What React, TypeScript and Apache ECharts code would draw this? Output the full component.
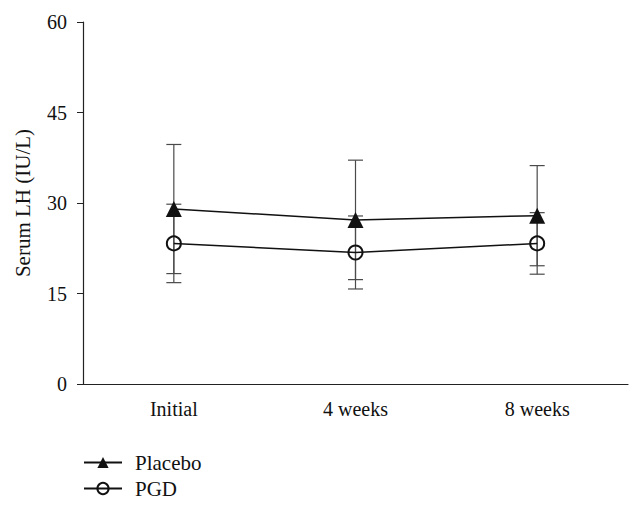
import React, { useEffect, useRef } from "react";
import * as echarts from "echarts";

const categories = ["Initial", "4 weeks", "8 weeks"];
const placeboMean = [29.0, 27.2, 27.9];
const placeboSD = [10.7, 9.9, 8.3];
const pgdMean = [23.3, 21.8, 23.3];
const pgdSD = [6.5, 6.05, 5.1];
const yTicks = [0, 15, 30, 45, 60];

const FONT = "Liberation Serif";

export default function App() {
  const ref = useRef<HTMLDivElement>(null);
  useEffect(() => {
    if (!ref.current) return;
    const chart = echarts.init(ref.current, null, { renderer: "svg" });
    const errData = (mean: number[], sd: number[]) =>
      mean.map((m, i) => [i, m - sd[i], m + sd[i]]);
    const renderErr = (params: any, api: any) => {
      const x = api.value(0);
      const lo = api.coord([x, api.value(1)]);
      const hi = api.coord([x, api.value(2)]);
      const hw = 7.5;
      const style = { stroke: "#4a4a4a", lineWidth: 1.2 };
      return {
        type: "group",
        children: [
          { type: "line", shape: { x1: lo[0], y1: lo[1], x2: hi[0], y2: hi[1] }, style },
          { type: "line", shape: { x1: lo[0] - hw, y1: lo[1], x2: lo[0] + hw, y2: lo[1] }, style },
          { type: "line", shape: { x1: hi[0] - hw, y1: hi[1], x2: hi[0] + hw, y2: hi[1] }, style },
        ],
      };
    };
    chart.setOption({
      animation: false,
      backgroundColor: "#ffffff",
      textStyle: { fontFamily: FONT },
      grid: { left: 83, right: 15, top: 22, bottom: 127, containLabel: false },
      legend: {
        orient: "vertical",
        left: 83,
        top: 452,
        padding: 0,
        itemWidth: 38,
        itemHeight: 14,
        itemGap: 5,
        data: ["Placebo", "PGD"],
        textStyle: { fontFamily: FONT, fontSize: 21, color: "#111", padding: [0, 0, 0, 8] },
      },
      xAxis: {
        type: "category",
        data: categories,
        boundaryGap: true,
        axisLine: { lineStyle: { color: "#222", width: 1.2 } },
        axisTick: { alignWithLabel: true, length: 5, lineStyle: { color: "#222" } },
        axisLabel: { fontFamily: FONT, fontSize: 20, color: "#111", margin: 15 },
      },
      yAxis: {
        type: "value",
        min: yTicks[0],
        max: yTicks[yTicks.length - 1],
        interval: 15,
        name: "Serum LH (IU/L)",
        nameLocation: "middle",
        nameGap: 50,
        nameTextStyle: { fontFamily: FONT, fontSize: 21, color: "#111" },
        splitLine: { show: false },
        axisLine: { show: true, lineStyle: { color: "#222", width: 1.2 } },
        axisTick: { show: true, length: 6, lineStyle: { color: "#222" } },
        axisLabel: { fontFamily: FONT, fontSize: 20, color: "#111", margin: 16 },
      },
      series: [
        {
          name: "Placebo",
          type: "line",
          data: placeboMean,
          symbol: "triangle",
          symbolSize: 16,
          lineStyle: { color: "#111", width: 1.5 },
          itemStyle: { color: "#111" },
          z: 3,
        },
        {
          name: "PGD",
          type: "line",
          data: pgdMean,
          symbol: "circle",
          symbolSize: 14,
          lineStyle: { color: "#111", width: 1.5 },
          itemStyle: { color: "rgba(255,255,255,0)", borderColor: "#111", borderWidth: 2 },
          z: 3,
        },
        {
          type: "custom",
          renderItem: renderErr,
          data: errData(placeboMean, placeboSD),
          z: 2,
          silent: true,
        },
        {
          type: "custom",
          renderItem: renderErr,
          data: errData(pgdMean, pgdSD),
          z: 2,
          silent: true,
        },
      ],
    });
    return () => chart.dispose();
  }, []);
  return (
    <div
      ref={ref}
      style={{ position: "absolute", left: 0, top: 0, width: 643, height: 511 }}
    />
  );
}
